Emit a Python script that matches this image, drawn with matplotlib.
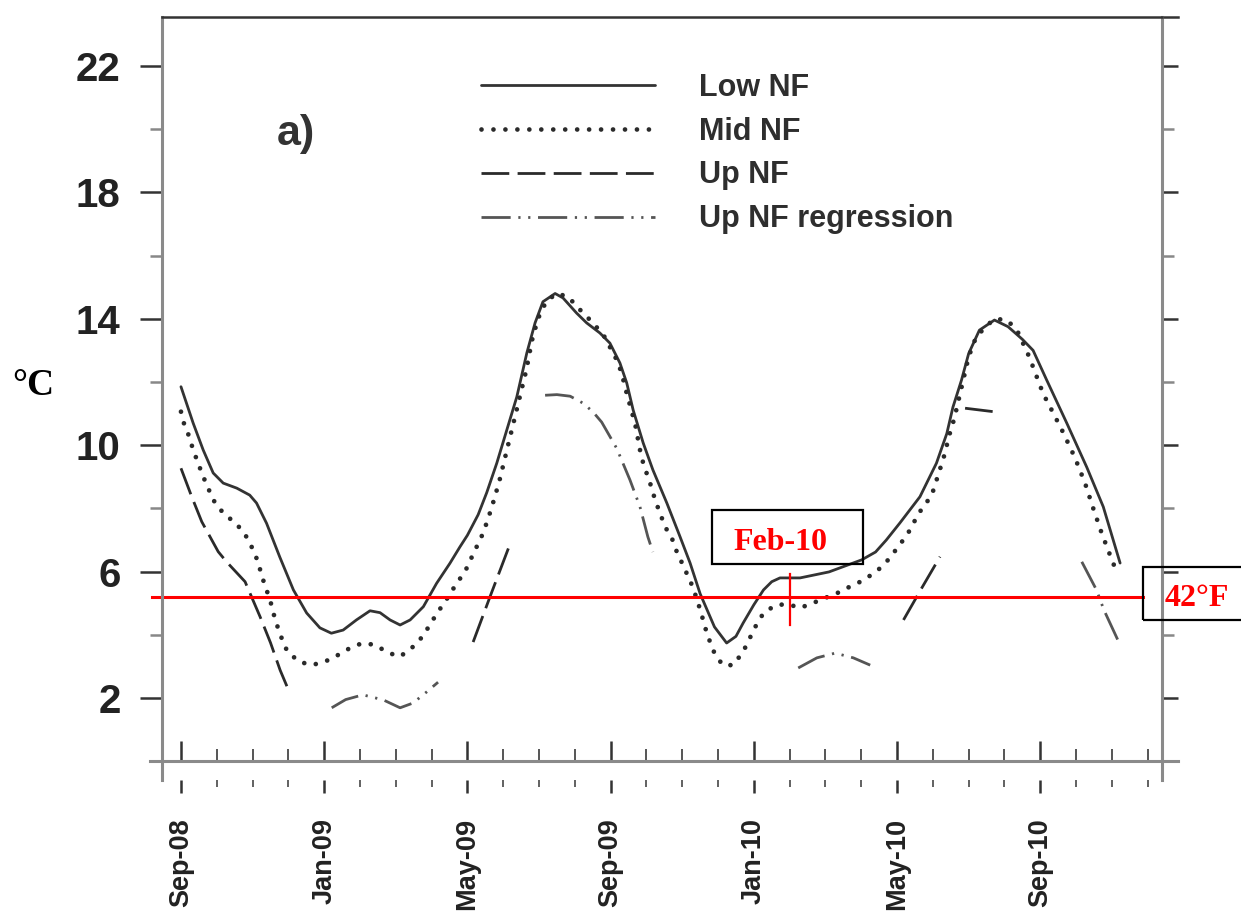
import numpy as np
import matplotlib
matplotlib.use("Agg")
import matplotlib.pyplot as plt
from matplotlib.patches import Rectangle

plt.rcParams['font.family'] = ['Liberation Sans', 'DejaVu Sans']
plt.rcParams['lines.scale_dashes'] = False

nan = np.nan

# x = months since Sep-08 (0 = Sep-08), y = temperature (deg C)
low_month = [0, 0.34, 0.62, 0.9, 1.18, 1.56, 1.92, 2.11, 2.39, 2.76, 3.14, 3.51, 3.88, 4.2, 4.53,
             4.9, 5.28, 5.56, 5.84, 6.12, 6.4, 6.77, 7.14, 7.51, 7.79, 8.0, 8.3, 8.54, 8.82,
             9.1, 9.38, 9.66, 9.89, 10.11, 10.45, 10.67, 11.05, 11.33, 11.7, 11.98, 12.26,
             12.45, 12.63, 12.91, 13.18, 13.57, 13.94, 14.22, 14.5, 14.9, 15.24, 15.5, 15.7,
             16.0, 16.27, 16.5, 16.73, 17.29, 18.1, 19.01, 19.4, 19.7, 20.08, 20.64, 21.1,
             21.39, 21.56, 21.8, 22.0, 22.3, 22.72, 23.1, 23.5, 23.8, 24.18, 24.74, 25.3,
             25.76, 26.23]
low_temp = [11.85, 10.7, 9.85, 9.12, 8.8, 8.64, 8.42, 8.17, 7.53, 6.46, 5.42, 4.69, 4.22, 4.05, 4.15,
            4.47, 4.76, 4.7, 4.47, 4.31, 4.47, 4.89, 5.63, 6.26, 6.78, 7.15, 7.8, 8.5, 9.43,
            10.48, 11.53, 12.92, 13.87, 14.54, 14.8, 14.66, 14.18, 13.87, 13.55, 13.23, 12.6,
            11.97, 11.11, 10.07, 9.22, 8.17, 7.1, 6.27, 5.3, 4.25, 3.74, 3.95, 4.37,
            4.95, 5.42, 5.68, 5.8, 5.8, 5.99, 6.37, 6.62, 7.0, 7.54, 8.37, 9.43,
            10.37, 11.2, 12.06, 12.9, 13.64, 13.96, 13.75, 13.35, 13.0, 12.06, 10.7, 9.3,
            8.05, 6.27]

mid_month = [0, 0.08, 0.23, 0.34, 0.48, 0.6, 0.76, 0.9, 1.18, 1.56, 1.83, 2.02, 2.16, 2.25, 2.37,
             2.49, 2.58, 2.69, 2.81, 2.97, 3.3, 3.65, 4.02, 4.34, 4.72, 5.07, 5.42, 5.79, 6.12,
             6.48, 6.76, 7.0, 7.23, 7.47, 7.7, 7.93, 8.11, 8.44, 8.6, 8.75, 8.9, 9.05, 9.2,
             9.35, 9.5, 9.65, 9.8, 9.97, 10.2, 10.49, 10.81, 11.15, 11.47, 11.8, 12.17, 12.31,
             12.4, 12.5, 12.59, 12.68, 12.82, 12.91, 13.04, 13.15, 13.24, 13.38, 13.52, 13.71,
             13.85, 14.02, 14.3, 14.5, 14.7, 14.9, 15.13, 15.42, 15.7, 16.04, 16.27, 16.61,
             16.95, 17.29, 17.64, 17.98, 18.33, 18.66, 19.07, 19.47, 19.75, 20.03, 20.3, 20.61,
             20.97, 21.3, 21.48, 21.6, 21.76, 22.0, 22.2, 22.43, 22.72, 23.07, 23.35, 23.69,
             24.08, 24.37, 24.64, 24.97, 25.25, 25.48, 25.72, 26.0, 26.13]
mid_temp = [11.06, 10.7, 10.27, 9.85, 9.43, 9.06, 8.64, 8.27, 7.85, 7.5, 7.1, 6.68, 6.28, 5.89, 5.48,
            5.1, 4.69, 4.28, 3.9, 3.47, 3.15, 3.04, 3.15, 3.33, 3.58, 3.74, 3.68, 3.43, 3.31,
            3.62, 3.96, 4.41, 4.81, 5.21, 5.63, 5.99, 6.43, 7.22, 7.75, 8.3, 8.9, 9.6, 10.3,
            11.0, 11.7, 12.4, 13.3, 14.0, 14.55, 14.8, 14.7, 14.28, 13.91, 13.49, 12.7, 12.28,
            11.85, 11.43, 11.06, 10.7, 9.85, 9.43, 9.0, 8.64, 8.27, 7.85, 7.42, 7.06,
            6.62, 6.21, 5.5, 4.8, 4.0, 3.42, 3.04, 3.04, 3.46, 4.25, 4.69, 4.94,
            4.97, 4.85, 5.0, 5.16, 5.32, 5.51, 5.73, 6.05, 6.37, 6.78, 7.2, 7.85,
            8.42, 9.6, 10.4, 10.85, 11.63, 12.8, 13.4, 13.7, 14.0, 13.96, 13.64, 12.8,
            11.63, 11.0, 10.4, 9.6, 8.8, 8.0, 7.2, 6.37, 6.0]

up_month = [0, 0.3, 0.58, 1.04, 1.28, 1.79, 2.21, 2.5, 2.77, 3.0, nan,
            8.16, 8.63, 9.2, nan,
            20.18, 20.7, 21.2, nan,
            21.9, 22.77]
up_temp = [9.27, 8.37, 7.58, 6.63, 6.3, 5.68, 4.57, 3.75, 2.88, 2.26, nan,
           3.77, 5.2, 6.9, nan,
           4.47, 5.5, 6.47, nan,
           11.17, 11.05]

reg_month = [4.21, 4.6, 5.08, 5.65, 6.12, 6.48, 6.86, 7.18, nan,
             10.17, 10.5, 10.87, 11.23, 11.51, 11.75, 12.17, 12.54, 12.82, 13.04, 13.18, nan,
             17.24, 17.76, 18.27, 18.78, 19.25, nan,
             25.16, 25.57, 25.78, 26.23]
reg_temp = [1.69, 1.95, 2.1, 1.94, 1.69, 1.84, 2.19, 2.5, nan,
            11.58, 11.6, 11.55, 11.33, 11.05, 10.73, 9.9, 8.9, 8.05, 7.1, 6.62, nan,
            2.95, 3.27, 3.42, 3.27, 3.04, nan,
            6.31, 5.42, 4.78, 3.68]

series_labels = ["Low NF", "Mid NF", "Up NF", "Up NF regression"]
tick_months = [0, 4, 8, 12, 16, 20, 24]
tick_labels = ["Sep-08", "Jan-09", "May-09", "Sep-09", "Jan-10", "May-10", "Sep-10"]
y_major = [2, 6, 10, 14, 18, 22]
y_minor = [0, 4, 8, 12, 16, 20]
threshold_c = 5.2
marker_month = 17

W, H = 1241, 914
fig = plt.figure(figsize=(W / 100, H / 100), dpi=100)


def fx(px):
    return px / W


def fy(py):
    return 1 - py / H


ax = fig.add_axes([fx(162), fy(780), fx(1162) - fx(162), fy(17) - fy(780)])
ax.set_xlim(-0.53, 27.4)
ax.set_ylim(-0.595, 23.55)

l_low, = ax.plot(low_month, low_temp, color='#333333', lw=2.0, solid_joinstyle='round',
                 solid_capstyle='round')
l_mid, = ax.plot(mid_month, mid_temp, color='#2a2a2a', lw=3.4, linestyle=(0, (0.01, 8.6)),
                 dash_capstyle='round')
l_up, = ax.plot(up_month, up_temp, color='#2a2a2a', lw=2.0, linestyle=(0, (20, 6)))
l_reg, = ax.plot(reg_month, reg_temp, color='#555555', lw=2.0,
                 linestyle=(0, (21, 5.5, 1.6, 5.5, 1.6, 5.5)))

# spines
ax.spines['bottom'].set_visible(False)
for s in ('left', 'right'):
    ax.spines[s].set_color('#8a8a8a')
    ax.spines[s].set_linewidth(2.2)
ax.spines['top'].set_color('#333333')
ax.spines['top'].set_linewidth(1.8)
ax.plot([1.0, 1.016], [1, 1], transform=ax.transAxes, clip_on=False, color='#333333', lw=1.8)

# y ticks (left)
ax.set_yticks(y_major)
ax.set_yticks(y_minor, minor=True)
ax.tick_params(axis='y', which='major', direction='out', length=15.8, width=1.8,
               color='#333333', labelsize=29, pad=14, labelcolor='#222222')
ax.tick_params(axis='y', which='minor', direction='out', length=8.6, width=1.8, color='#888888')
plt.setp(ax.get_yticklabels(), fontweight='bold')

# y ticks (right)
sy = ax.secondary_yaxis('right')
sy.set_yticks(y_major)
sy.set_yticks(y_minor, minor=True)
sy.tick_params(axis='y', which='major', direction='out', length=11.5, width=1.8,
               color='#333333', labelright=False)
sy.tick_params(axis='y', which='minor', direction='out', length=8.6, width=1.8,
               color='#888888', labelright=False)
sy.spines['right'].set_visible(False)

# x ticks below (with labels)
ax.set_xticks(tick_months, tick_labels, rotation=90, fontsize=19.5, fontweight='bold', color='#222222')
ax.set_xticks(range(0, 28), minor=True)
ax.tick_params(axis='x', which='major', direction='out', length=9.4, width=1.8, color='#333333', pad=18)
ax.tick_params(axis='x', which='minor', direction='out', length=5, width=1.3, color='#555555')

# inner baseline with upward ticks
sx = ax.secondary_xaxis(0, transform=ax.transData)
sx.set_xticks(tick_months)
sx.set_xticks(range(0, 28), minor=True)
sx.tick_params(axis='x', which='major', direction='in', length=14.4, width=1.8,
               color='#333333', labelbottom=False, labeltop=False)
sx.tick_params(axis='x', which='minor', direction='in', length=8.6, width=1.4,
               color='#555555', labelbottom=False, labeltop=False)
for s in sx.spines.values():
    s.set_visible(False)
ax.axhline(0, xmin=-0.012, xmax=1.016, clip_on=False, color='#8a8a8a', lw=2.2)

# legend
leg = ax.legend([l_low, l_mid, l_up, l_reg], series_labels, loc='upper left',
                bbox_to_anchor=(fx(481), fy(73)), bbox_transform=fig.transFigure,
                frameon=False, prop={'size': 22, 'weight': 'bold'}, handlelength=5.7,
                handletextpad=1.44, labelspacing=0.45, borderpad=0, borderaxespad=0)
for t in leg.get_texts():
    t.set_color('#2e2e2e')

# annotations
ax.text(fx(277), fy(145), "a)", transform=fig.transFigure, fontsize=31, fontweight='bold',
        color='#333333', ha='left', va='baseline')
fig.text(fx(12), fy(395), "°C", fontsize=27, fontweight='bold', family='Liberation Serif',
         color='black', ha='left', va='baseline')

ax.axhline(threshold_c, xmin=-0.01, xmax=0.981, clip_on=False, color='red', lw=2.2)
ax.plot([marker_month, marker_month], [4.3, 5.92], color='red', lw=1.6)

fig.patches.append(Rectangle((fx(1143), fy(620)), fx(1260) - fx(1143), fy(567) - fy(620),
                             transform=fig.transFigure, fill=False, ec='black', lw=1.6))
fig.text(fx(1197), fy(606), "42°F", fontsize=23, fontweight='bold', family='Liberation Serif',
         color='red', ha='center', va='baseline')
fig.patches.append(Rectangle((fx(712), fy(564)), fx(863) - fx(712), fy(510) - fy(564),
                             transform=fig.transFigure, fill=False, ec='black', lw=1.6))
fig.text(fx(780), fy(550), "Feb-10", fontsize=23, fontweight='bold', family='Liberation Serif',
         color='red', ha='center', va='baseline')

fig.savefig('out.png', dpi=100)
